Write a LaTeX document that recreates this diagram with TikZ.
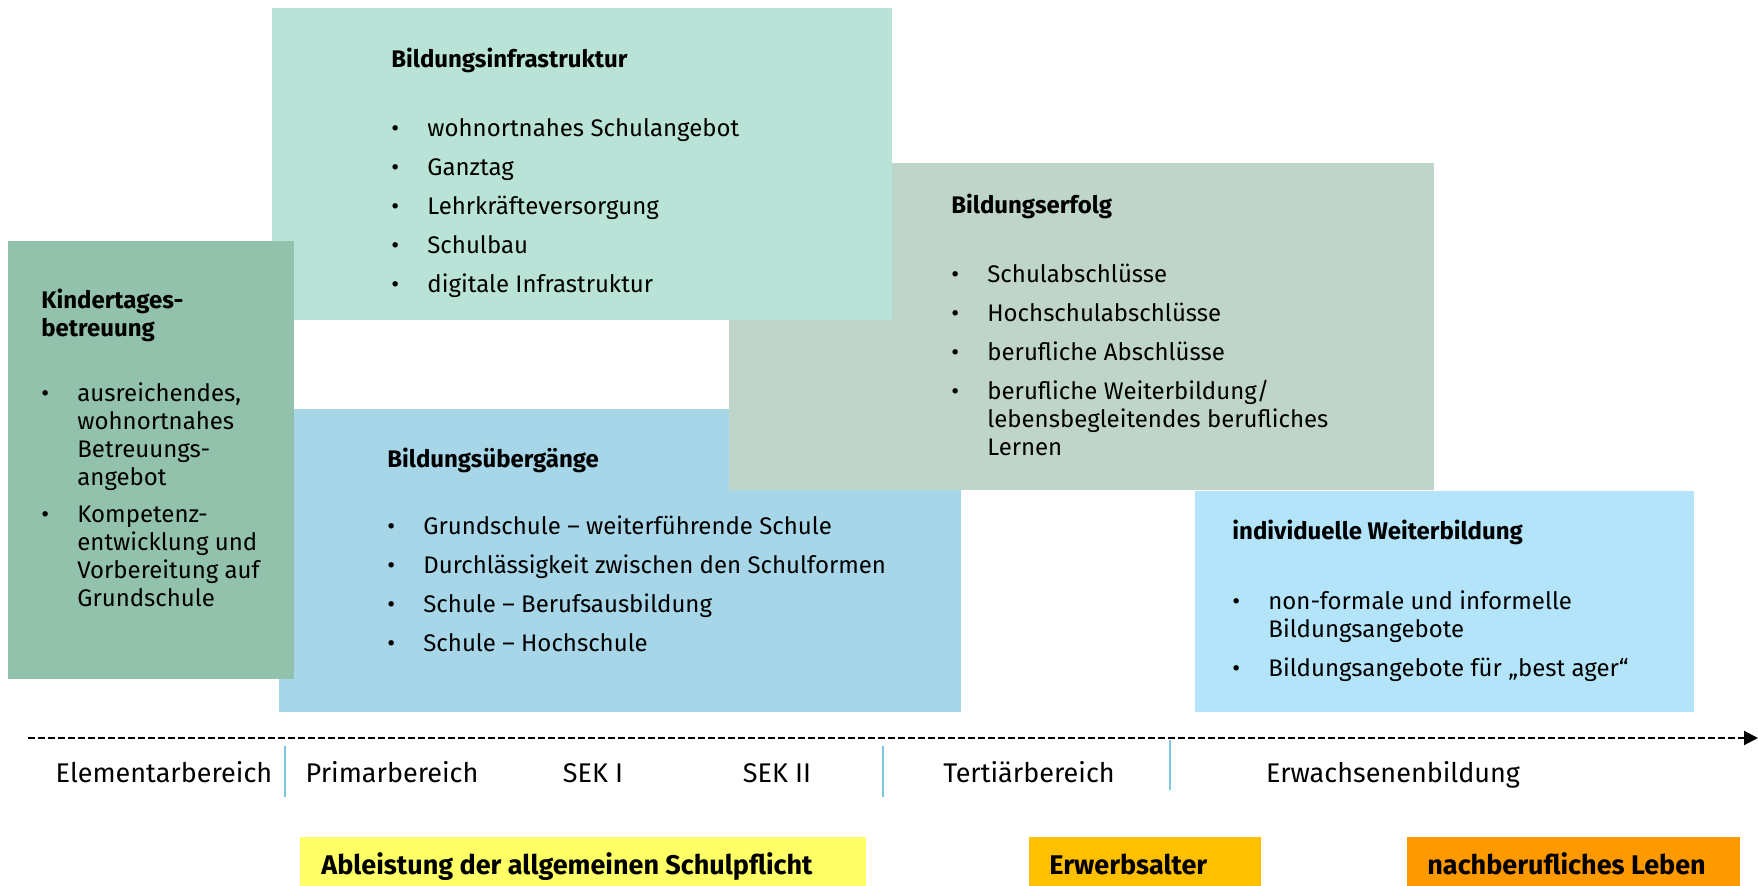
\documentclass[tikz,border=0pt]{standalone}
\usepackage{fontspec}
\setmainfont{Fira Sans}
\usetikzlibrary{arrows.meta,positioning,fit}
\definecolor{Infra}{HTML}{B9E3D7}
\definecolor{Kita}{HTML}{92C1AC}
\definecolor{Erfolg}{HTML}{BFD5CA}
\definecolor{Uebergang}{HTML}{A6D6E8}
\definecolor{Weiter}{HTML}{B3E4F9}
\definecolor{Pflicht}{HTML}{FFFF66}
\definecolor{Erwerb}{HTML}{FFC000}
\definecolor{Nachberuf}{HTML}{FF9900}
\definecolor{Trenner}{HTML}{7CC6E4}
\newcommand{\titel}[1]{\multicolumn{2}{@{}l@{}}{\textbf{#1}}}

\begin{document}
\begin{tikzpicture}[x=0.5pt,y=-0.5pt,
    feld/.style={inner sep=0pt,draw=none},
    inhalt/.style={anchor=base west,inner sep=0pt,font=\fontsize{12}{14}\selectfont},
    stufe/.style={anchor=base,inner sep=0pt,font=\fontsize{13.5}{16}\selectfont},
    phase/.style={anchor=base west,inner sep=0pt,font=\fontsize{13.5}{16}\selectfont\bfseries},
    trenner/.style={draw=Trenner,line width=0.6pt},
    zeit/.style={-{Triangle[length=7pt,width=7pt]},line width=1pt,dash pattern=on 3.5pt off 1.5pt}]
    \useasboundingbox (0,0) rectangle (1758,886);
    % Felder
    \node[feld,fill=Uebergang,fit={(279,409)(961,712)}] (ueber) {};
    \node[feld,fill=Erfolg,fit={(729,163)(1434,490)}] (erfolg) {};
    \node[feld,fill=Infra,fit={(272,8)(892,320)}] (infra) {};
    \node[feld,fill=Kita,fit={(8,241)(294,679)}] (kita) {};
    \node[feld,fill=Weiter,fit={(1195,491)(1694,712)}] (weiter) {};
    % Inhalte
    \node[inhalt] (infratext) at (391,68) {\begin{tabular}[t]{@{}p{18pt}@{}l@{}}
      \titel{Bildungsinfrastruktur}\\[20.5pt]
      \textbullet & wohnortnahes Schulangebot\\[5.5pt]
      \textbullet & Ganztag\\[5.5pt]
      \textbullet & Lehrkräfteversorgung\\[5.5pt]
      \textbullet & Schulbau\\[5.5pt]
      \textbullet & digitale Infrastruktur
    \end{tabular}};
    \node[inhalt] (kitatext) at (41,309) {\begin{tabular}[t]{@{}p{18pt}@{}l@{}}
      \titel{Kindertages-}\\
      \titel{betreuung}\\[18.5pt]
      \textbullet & ausreichendes,\\
      & wohnortnahes\\
      & Betreuungs-\\
      & angebot\\[4.5pt]
      \textbullet & Kompetenz-\\
      & entwicklung und\\
      & Vorbereitung auf\\
      & Grundschule
    \end{tabular}};
    \node[inhalt] (erfolgtext) at (951,214) {\begin{tabular}[t]{@{}p{18pt}@{}l@{}}
      \titel{Bildungserfolg}\\[20.5pt]
      \textbullet & Schulabschlüsse\\[5.5pt]
      \textbullet & Hochschulabschlüsse\\[5.5pt]
      \textbullet & berufliche Abschlüsse\\[5.5pt]
      \textbullet & berufliche Weiterbildung/\\
      & lebensbegleitendes berufliches\\
      & Lernen
    \end{tabular}};
    \node[inhalt] (uebertext) at (387,468) {\begin{tabular}[t]{@{}p{18pt}@{}l@{}}
      \titel{Bildungsübergänge}\\[19.5pt]
      \textbullet & Grundschule – weiterführende Schule\\[5.5pt]
      \textbullet & Durchlässigkeit zwischen den Schulformen\\[5.5pt]
      \textbullet & Schule – Berufsausbildung\\[5.5pt]
      \textbullet & Schule – Hochschule
    \end{tabular}};
    \node[inhalt] (weitertext) at (1232,540) {\begin{tabular}[t]{@{}p{18pt}@{}l@{}}
      \titel{individuelle Weiterbildung}\\[21pt]
      \textbullet & non-formale und informelle\\
      & Bildungsangebote\\[5.5pt]
      \textbullet & Bildungsangebote für „best ager“
    \end{tabular}};
    % Zeitachse
    \coordinate (start) at (28,738);
    \coordinate (ende) at (1758,738);
    \draw[zeit] (start) -- (ende);
    \foreach \x/\o/\u [count=\i] in {285/746/797,883/746/797,1170/740/790}{
      \coordinate (t\i o) at (\x,\o);
      \coordinate (t\i u) at (\x,\u);
      \draw[trenner] (t\i o) -- (t\i u);
    }
    \node[stufe] (elem) at (164,783) {Elementarbereich};
    \node[stufe] (prim) at (392,783) {Primarbereich};
    \node[stufe] (seka) at (593,783) {SEK I};
    \node[stufe] (sekb) at (777,783) {SEK II};
    \node[stufe] (tert) at (1029,783) {Tertiärbereich};
    \node[stufe] (erw) at (1393,783) {Erwachsenenbildung};
    % Lebensphasen
    \node[feld,fill=Pflicht,fit={(300,837)(866,886)}] (pflicht) {};
    \node[feld,fill=Erwerb,fit={(1029,837)(1261,886)}] (erwerb) {};
    \node[feld,fill=Nachberuf,fit={(1407,837)(1740,886)}] (nach) {};
    \node[phase] (pflichttext) at (321,875) {Ableistung der allgemeinen Schulpflicht};
    \node[phase] (erwerbtext) at (1049,875) {Erwerbsalter};
    \node[phase] (nachtext) at (1427,875) {nachberufliches Leben};
\end{tikzpicture}
\end{document}
